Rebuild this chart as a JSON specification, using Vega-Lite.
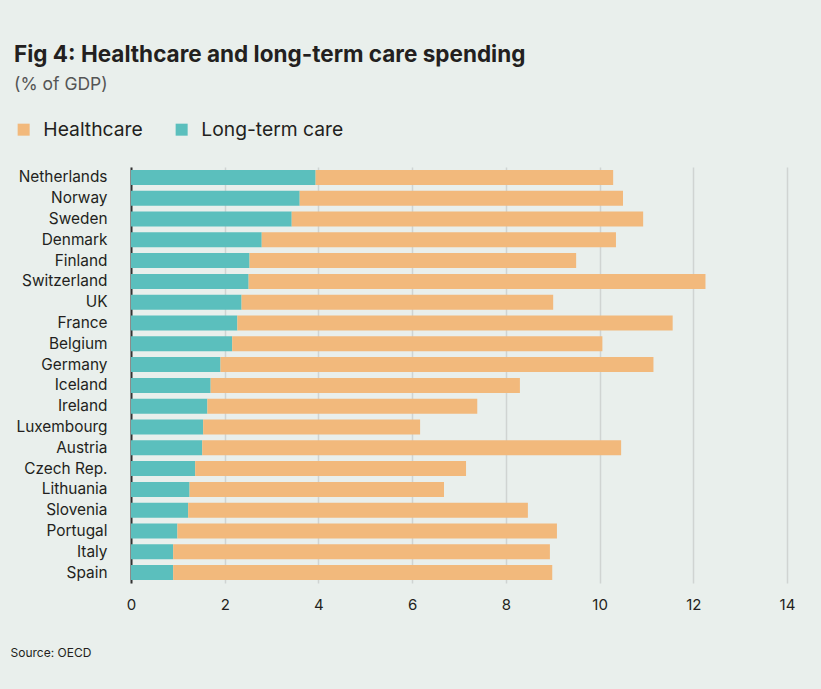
{
  "$schema": "https://vega.github.io/schema/vega-lite/v6.json",
  "autosize": "none",
  "width": 656,
  "height": 416,
  "padding": {"left": 131, "top": 167, "right": 34, "bottom": 106},
  "background": "#e9efec",
  "title": {
    "text": "Fig 4: Healthcare and long-term care spending",
    "subtitle": "(% of GDP)",
    "anchor": "start",
    "frame": "group",
    "dx": -117,
    "offset": 27,
    "font": "Inter",
    "fontSize": 22.5,
    "fontWeight": "bold",
    "color": "#231f20",
    "subtitleFont": "Inter",
    "subtitleFontSize": 17.5,
    "subtitleColor": "#555555",
    "subtitlePadding": 9
  },
  "data": {
    "values": [
      {"country": "Netherlands", "type": "Long-term care", "value": 3.94},
      {"country": "Netherlands", "type": "Healthcare", "value": 6.35},
      {"country": "Norway", "type": "Long-term care", "value": 3.60},
      {"country": "Norway", "type": "Healthcare", "value": 6.90},
      {"country": "Sweden", "type": "Long-term care", "value": 3.43},
      {"country": "Sweden", "type": "Healthcare", "value": 7.50},
      {"country": "Denmark", "type": "Long-term care", "value": 2.79},
      {"country": "Denmark", "type": "Healthcare", "value": 7.56},
      {"country": "Finland", "type": "Long-term care", "value": 2.53},
      {"country": "Finland", "type": "Healthcare", "value": 6.97},
      {"country": "Switzerland", "type": "Long-term care", "value": 2.51},
      {"country": "Switzerland", "type": "Healthcare", "value": 9.75},
      {"country": "UK", "type": "Long-term care", "value": 2.36},
      {"country": "UK", "type": "Healthcare", "value": 6.65},
      {"country": "France", "type": "Long-term care", "value": 2.27},
      {"country": "France", "type": "Healthcare", "value": 9.29},
      {"country": "Belgium", "type": "Long-term care", "value": 2.16},
      {"country": "Belgium", "type": "Healthcare", "value": 7.90},
      {"country": "Germany", "type": "Long-term care", "value": 1.91},
      {"country": "Germany", "type": "Healthcare", "value": 9.24},
      {"country": "Iceland", "type": "Long-term care", "value": 1.70},
      {"country": "Iceland", "type": "Healthcare", "value": 6.60},
      {"country": "Ireland", "type": "Long-term care", "value": 1.63},
      {"country": "Ireland", "type": "Healthcare", "value": 5.76},
      {"country": "Luxembourg", "type": "Long-term care", "value": 1.54},
      {"country": "Luxembourg", "type": "Healthcare", "value": 4.63},
      {"country": "Austria", "type": "Long-term care", "value": 1.52},
      {"country": "Austria", "type": "Healthcare", "value": 8.94},
      {"country": "Czech Rep.", "type": "Long-term care", "value": 1.37},
      {"country": "Czech Rep.", "type": "Healthcare", "value": 5.78},
      {"country": "Lithuania", "type": "Long-term care", "value": 1.25},
      {"country": "Lithuania", "type": "Healthcare", "value": 5.43},
      {"country": "Slovenia", "type": "Long-term care", "value": 1.22},
      {"country": "Slovenia", "type": "Healthcare", "value": 7.25},
      {"country": "Portugal", "type": "Long-term care", "value": 0.99},
      {"country": "Portugal", "type": "Healthcare", "value": 8.10},
      {"country": "Italy", "type": "Long-term care", "value": 0.90},
      {"country": "Italy", "type": "Healthcare", "value": 8.04},
      {"country": "Spain", "type": "Long-term care", "value": 0.90},
      {"country": "Spain", "type": "Healthcare", "value": 8.09}
    ]
  },
  "mark": {"type": "bar"},
  "encoding": {
    "y": {
      "field": "country",
      "type": "nominal",
      "sort": null,
      "scale": {"paddingInner": 0.28, "paddingOuter": 0.14},
      "axis": {
        "title": null,
        "ticks": false,
        "labelPadding": 24,
        "labelFont": "Inter",
        "labelFontSize": 15.4,
        "labelColor": "#231f20",
        "domainColor": "#333333",
        "domainWidth": 2,
        "grid": false
      }
    },
    "x": {
      "field": "value",
      "type": "quantitative",
      "stack": "zero",
      "scale": {"domain": [0, 14], "nice": false},
      "axis": {
        "values": [0, 2, 4, 6, 8, 10, 12, 14],
        "labelFlush": false,
        "title": "Source: OECD",
        "titleX": -121,
        "titleY": 69,
        "titleAlign": "left",
        "titleAnchor": "start",
        "titleBaseline": "middle",
        "titleFont": "Inter",
        "titleFontSize": 12,
        "titleFontWeight": "normal",
        "titleColor": "#231f20",
        "domain": false,
        "ticks": false,
        "labelPadding": 14,
        "labelFont": "Inter",
        "labelFontSize": 15,
        "labelColor": "#231f20",
        "grid": true,
        "gridColor": "#d0d4d2",
        "gridWidth": 1.5
      }
    },
    "color": {
      "field": "type",
      "type": "nominal",
      "scale": {"domain": ["Healthcare", "Long-term care"], "range": ["#f2b97c", "#5bbfbd"]},
      "legend": {
        "title": null,
        "orient": "none",
        "direction": "horizontal",
        "legendX": -117,
        "legendY": -47,
        "symbolType": "square",
        "symbolSize": 144,
        "symbolStrokeWidth": 0,
        "symbolOpacity": 1,
        "labelFont": "Inter",
        "labelFontSize": 19.3,
        "labelColor": "#231f20",
        "labelOffset": 10,
        "columnPadding": 29
      }
    },
    "order": {"field": "type", "sort": "descending"}
  },
  "config": {"view": {"stroke": null}}
}
